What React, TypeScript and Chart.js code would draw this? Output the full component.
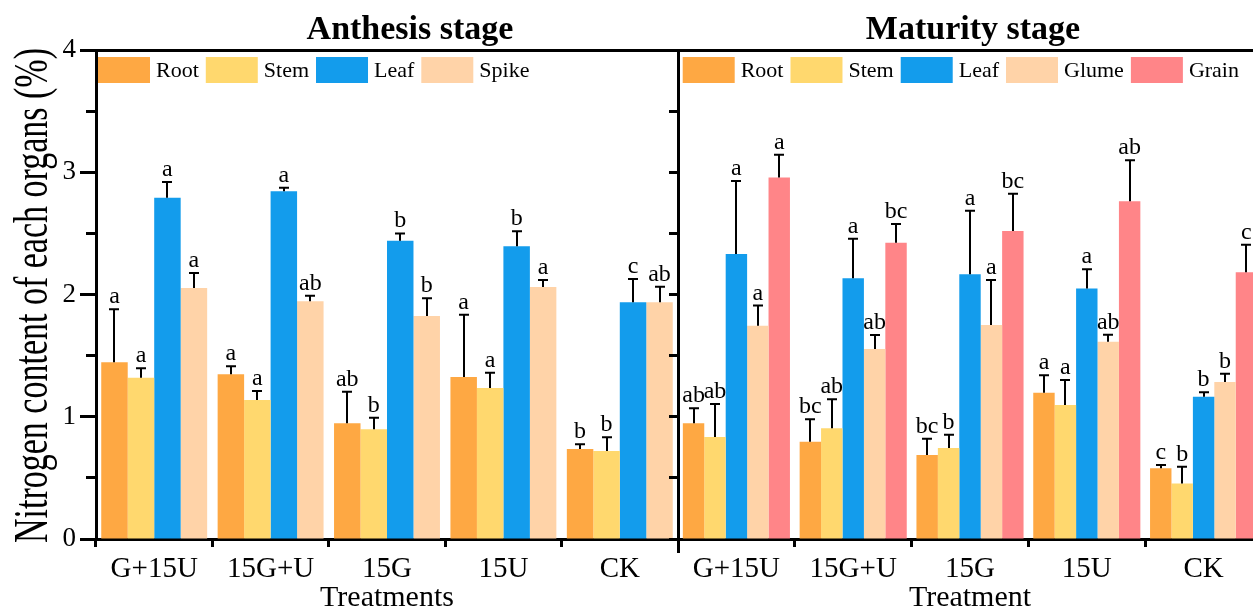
import React, { useEffect, useRef } from 'react';
import { Chart, registerables } from 'chart.js';

Chart.register(...registerables);

const FONT = "'Liberation Serif', 'Times New Roman', Times, serif";

// ---------- data ----------
const treatments = ['G+15U', '15G+U', '15G', '15U', 'CK'];

const anthesisOrgans = ['Root', 'Stem', 'Leaf', 'Spike'];
const anthRoot = [1.445, 1.347, 0.946, 1.325, 0.736];
const anthStem = [1.32, 1.137, 0.897, 1.235, 0.72];
const anthLeaf = [2.792, 2.844, 2.44, 2.394, 1.936];
const anthSpike = [2.053, 1.944, 1.824, 2.061, 1.936];
const anthRootSd = [0.434, 0.066, 0.259, 0.51, 0.039];
const anthStemSd = [0.076, 0.074, 0.095, 0.125, 0.112];
const anthLeafSd = [0.128, 0.03, 0.06, 0.123, 0.191];
const anthSpikeSd = [0.123, 0.046, 0.145, 0.058, 0.128];
const anthRootSig = ['a', 'a', 'ab', 'a', 'b'];
const anthStemSig = ['a', 'a', 'b', 'a', 'b'];
const anthLeafSig = ['a', 'a', 'b', 'b', 'c'];
const anthSpikeSig = ['a', 'ab', 'b', 'a', 'ab'];

const maturityOrgans = ['Root', 'Stem', 'Leaf', 'Glume', 'Grain'];
const matRoot = [0.946, 0.796, 0.687, 1.197, 0.578];
const matStem = [0.834, 0.905, 0.744, 1.096, 0.455];
const matLeaf = [2.331, 2.132, 2.165, 2.05, 1.164];
const matGlume = [1.745, 1.554, 1.75, 1.614, 1.284];
const matGrain = [2.958, 2.424, 2.519, 2.762, 2.181];
const matRootSd = [0.123, 0.183, 0.133, 0.142, 0.027];
const matStemSd = [0.27, 0.238, 0.109, 0.204, 0.137];
const matLeafSd = [0.597, 0.325, 0.521, 0.156, 0.036];
const matGlumeSd = [0.164, 0.115, 0.369, 0.057, 0.068];
const matGrainSd = [0.186, 0.153, 0.306, 0.336, 0.226];
const matRootSig = ['ab', 'bc', 'bc', 'a', 'c'];
const matStemSig = ['ab', 'ab', 'b', 'a', 'b'];
const matLeafSig = ['a', 'a', 'a', 'a', 'b'];
const matGlumeSig = ['a', 'ab', 'a', 'ab', 'b'];
const matGrainSig = ['a', 'bc', 'bc', 'ab', 'c'];

const organColors: Record<string, string> = {
  Root: '#FEA843',
  Stem: '#FFD86E',
  Leaf: '#139CEC',
  Spike: '#FFD3A8',
  Glume: '#FFD3A8',
  Grain: '#FF8588',
};

const yAxisTitle = 'Nitrogen content of each organs (%)';

// ---------- helpers ----------
function align(pixel: number, width: number) {
  const h = width / 2;
  return Math.round(pixel - h) + h;
}

function panelPlugin(p: any) {
  return {
    id: 'panel' + p.title.replace(/\s/g, ''),
    afterDatasetsDraw(chart: any) {
      const ctx = chart.ctx;
      const ys = chart.scales.y;
      ctx.save();
      chart.data.datasets.forEach((ds: any, i: number) => {
        const meta = chart.getDatasetMeta(i);
        meta.data.forEach((bar: any, j: number) => {
          const v = ds.data[j];
          const e = p.errors[i][j];
          const yTop = ys.getPixelForValue(v + e);
          const x = Math.round(bar.x);
          ctx.strokeStyle = '#000';
          ctx.lineWidth = 2;
          ctx.beginPath();
          ctx.moveTo(x, bar.y);
          ctx.lineTo(x, yTop);
          ctx.moveTo(x - 5, yTop);
          ctx.lineTo(x + 5, yTop);
          ctx.stroke();
          ctx.fillStyle = '#000';
          ctx.font = `24px ${FONT}`;
          ctx.textAlign = 'center';
          ctx.textBaseline = 'alphabetic';
          ctx.fillText(p.letters[i][j], bar.x, yTop - 6);
        });
      });
      ctx.restore();
    },
    afterDraw(chart: any) {
      const ctx = chart.ctx;
      const ca = chart.chartArea;
      const ys = chart.scales.y;
      ctx.save();
      ctx.strokeStyle = '#000';
      ctx.lineWidth = 3;
      // top frame
      const yt = align(ca.top, 3);
      ctx.beginPath();
      ctx.moveTo(ca.left - 1.5, yt);
      ctx.lineTo(p.frameRight ? ca.right + 1.5 : chart.width, yt);
      ctx.stroke();
      if (p.frameRight) {
        const xr = align(ca.right, 3);
        ctx.beginPath();
        ctx.moveTo(xr, ca.top);
        ctx.lineTo(xr, ca.bottom);
        ctx.stroke();
      }
      // major tick extension
      if (p.majorExt) {
        for (let v = 0; v <= 4; v++) {
          const y = align(ys.getPixelForValue(v), 3);
          ctx.beginPath();
          ctx.moveTo(ca.left - p.yTickLen - p.majorExt, y);
          ctx.lineTo(ca.left - p.yTickLen + 1, y);
          ctx.stroke();
        }
      }
      if (p.edgeTick) {
        const x = align(ca.left, 3);
        ctx.beginPath();
        ctx.moveTo(x, ca.bottom);
        ctx.lineTo(x, ca.bottom + p.edgeTick);
        ctx.stroke();
      }
      // panel title
      ctx.fillStyle = '#000';
      ctx.font = `bold 34px ${FONT}`;
      ctx.textAlign = 'center';
      ctx.textBaseline = 'alphabetic';
      ctx.fillText(p.title, (ca.left + ca.right) / 2 + p.titleDx, 39);
      // legend
      ctx.font = `22px ${FONT}`;
      ctx.textAlign = 'left';
      ctx.textBaseline = 'middle';
      let lx = ca.left + p.legendDx;
      const ly = ca.top + 7;
      chart.data.datasets.forEach((ds: any) => {
        ctx.fillStyle = ds.backgroundColor;
        ctx.fillRect(lx, ly, 52, 26);
        lx += 52 + 6;
        ctx.fillStyle = '#000';
        ctx.fillText(ds.label, lx, ly + 14);
        lx += ctx.measureText(ds.label).width + 7;
      });
      // y axis title
      if (p.yTitle) {
        ctx.save();
        ctx.translate(47, (ca.top + ca.bottom) / 2 + 1);
        ctx.rotate(-Math.PI / 2);
        ctx.scale(1, 1.45);
        ctx.font = `34px ${FONT}`;
        ctx.textAlign = 'center';
        ctx.textBaseline = 'alphabetic';
        ctx.fillStyle = '#000';
        ctx.fillText(p.yTitle, 0, 0);
        ctx.restore();
      }
      ctx.restore();
    },
  };
}

function makeConfig(opt: any): any {
  return {
    type: 'bar',
    data: {
      labels: treatments,
      datasets: opt.organs.map((o: string, i: number) => ({
        label: o,
        data: opt.values[i],
        backgroundColor: organColors[o],
        borderWidth: 0,
        categoryPercentage: opt.catPct,
        barPercentage: 1,
      })),
    },
    options: {
      responsive: false,
      animation: false,
      devicePixelRatio: 1,
      layout: { padding: { top: 50, left: 0, right: opt.padRight, bottom: 0 } },
      plugins: {
        legend: { display: false },
        title: { display: false },
        tooltip: { enabled: false },
      },
      scales: {
        x: {
          grid: {
            display: true,
            drawOnChartArea: false,
            drawTicks: true,
            tickLength: 8,
            tickWidth: 3,
            tickColor: '#000',
            offset: true,
          },
          border: { display: true, width: 3, color: '#000' },
          ticks: {
            color: '#000',
            font: { family: FONT, size: 29 },
            padding: 5,
            maxRotation: 0,
            autoSkip: false,
          },
          title: {
            display: true,
            text: opt.xTitle,
            color: '#000',
            font: { family: FONT, size: 30, lineHeight: 0.8 },
            padding: 0,
          },
          afterFit: (s: any) => {
            s.height = 71;
          },
        },
        y: {
          min: 0,
          max: 4,
          grid: {
            drawOnChartArea: false,
            drawTicks: true,
            tickLength: opt.yTickLen,
            tickWidth: 3,
            tickColor: '#000',
          },
          border: { display: true, width: 3, color: '#000' },
          ticks: {
            stepSize: 0.5,
            color: '#000',
            font: { family: FONT, size: 27 },
            padding: 10,
            autoSkip: false,
            callback: (v: any) => (opt.showYLabels && Number.isInteger(v) ? String(v) : ''),
          },
          afterFit: (s: any) => {
            s.width = opt.yWidth;
          },
        },
      },
    },
    plugins: [panelPlugin(opt)],
  };
}

export default function App() {
  const leftRef = useRef<HTMLCanvasElement>(null);
  const rightRef = useRef<HTMLCanvasElement>(null);

  useEffect(() => {
    const c1 = new Chart(
      leftRef.current as HTMLCanvasElement,
      makeConfig({
        organs: anthesisOrgans,
        values: [anthRoot, anthStem, anthLeaf, anthSpike],
        errors: [anthRootSd, anthStemSd, anthLeafSd, anthSpikeSd],
        letters: [anthRootSig, anthStemSig, anthLeafSig, anthSpikeSig],
        title: 'Anthesis stage',
        titleDx: 23,
        xTitle: 'Treatments',
        showYLabels: true,
        yTickLen: 10,
        majorExt: 6,
        yWidth: 96,
        padRight: 2,
        catPct: 0.91,
        legendDx: 2,
        frameRight: true,
        yTitle: yAxisTitle,
      })
    );
    const c2 = new Chart(
      rightRef.current as HTMLCanvasElement,
      makeConfig({
        organs: maturityOrgans,
        values: [matRoot, matStem, matLeaf, matGlume, matGrain],
        errors: [matRootSd, matStemSd, matLeafSd, matGlumeSd, matGrainSd],
        letters: [matRootSig, matStemSig, matLeafSig, matGlumeSig, matGrainSig],
        title: 'Maturity stage',
        titleDx: 3,
        xTitle: 'Treatment',
        showYLabels: false,
        yTickLen: 9,
        majorExt: 0,
        yWidth: 18,
        padRight: 18,
        catPct: 0.917,
        legendDx: 4.7,
        frameRight: false,
        edgeTick: 14,
      })
    );
    return () => {
      c1.destroy();
      c2.destroy();
    };
  }, []);

  return (
    <div
      style={{
        position: 'absolute',
        left: 0,
        top: 0,
        width: 1253,
        height: 610,
        overflow: 'hidden',
        background: '#fff',
      }}
    >
      <canvas
        ref={leftRef}
        width={680}
        height={610}
        style={{ position: 'absolute', left: 0, top: 0, width: 680, height: 610 }}
      />
      <canvas
        ref={rightRef}
        width={620}
        height={610}
        style={{ position: 'absolute', left: 660, top: 0, width: 620, height: 610 }}
      />
    </div>
  );
}
